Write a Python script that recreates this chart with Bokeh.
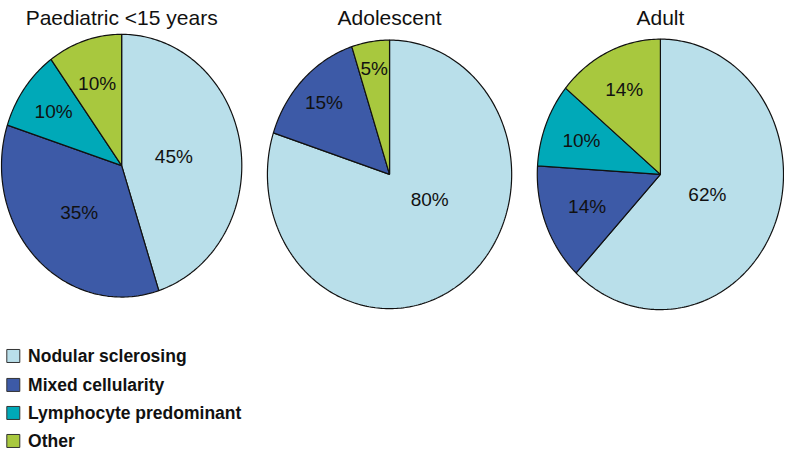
import numpy as np
from bokeh.plotting import figure
from bokeh.models import Range1d
from bokeh.core.properties import value
from bokeh.embed import file_html
from bokeh.resources import INLINE

# ---- data ----
categories = ["Nodular sclerosing", "Mixed cellularity", "Lymphocyte predominant", "Other"]
groups = ["Paediatric <15 years", "Adolescent", "Adult"]
paediatric = [45, 35, 10, 10]
adolescent = [80, 15, 0, 5]
adult = [62, 14, 10, 14]
colors = ["#b9dfea", "#3d5aa7", "#00a9b8", "#a8c83e"]

# ---- layout (reference pixel coordinates) ----
centers = [(125, 174), (397, 183), (672, 183)]
radii = [(122, 136), (124, 139), (125, 140)]
label_r = [[0.44, 0.50, 0.70, 0.66], [0.38, 0.76, 0.0, 0.80], [0.41, 0.64, 0.69, 0.69]]
label_dang = [[0, 0, 0, 0], [24, 0, 0, 0], [0, 0, 0, 0]]
FONT = "Liberation Sans"

p = figure(width=784, height=454, x_range=Range1d(2, 798), y_range=Range1d(473, 3),
           output_backend="svg", toolbar_location=None, min_border=0,
           x_axis_location=None, y_axis_location=None)
p.grid.visible = False
p.outline_line_color = None

series = [paediatric, adolescent, adult]
for gi, vals in enumerate(series):
    cx, cy = centers[gi]
    rx, ry = radii[gi]
    total = float(sum(vals))
    xs, ys, fills = [], [], []
    lx, ly, lt = [], [], []
    cum = 0.0
    for si, v in enumerate(vals):
        if v <= 0:
            continue
        a0 = 90.0 - 360.0 * cum / total
        a1 = 90.0 - 360.0 * (cum + v) / total
        cum += v
        n = max(4, int(abs(a1 - a0) / 1.0))
        angs = np.radians(np.linspace(a0, a1, n))
        px = [cx] + list(cx + rx * np.cos(angs))
        py = [cy] + list(cy - ry * np.sin(angs))
        xs.append(px)
        ys.append(py)
        fills.append(colors[si])
        mid = np.radians((a0 + a1) / 2.0 + label_dang[gi][si])
        f = label_r[gi][si]
        lx.append(cx + f * rx * np.cos(mid))
        ly.append(cy - f * ry * np.sin(mid))
        lt.append(f"{v}%")
    p.patches(xs=xs, ys=ys, fill_color=fills, line_color="#111111", line_width=1.2)
    p.text(x=lx, y=ly, text=lt, text_font=value(FONT), text_font_size="19px",
           text_align="center", text_baseline="middle", text_color="#111111")
    p.text(x=[cx], y=[21], text=[groups[gi]], text_font=value(FONT), text_font_size="21px",
           text_align="center", text_baseline="alphabetic", text_color="#111111")

# ---- legend ----
leg_y = [371, 401, 430, 459]
p.rect(x=[15] * 4, y=leg_y, width=13, height=13, width_units="screen", height_units="screen",
       fill_color=colors, line_color="#333333", line_width=1)
p.text(x=[30] * 4, y=leg_y, text=categories, text_font=value(FONT), text_font_size="17.5px",
       text_font_style="bold", text_align="left", text_baseline="middle", text_color="#111111")

open("out.html", "w").write(file_html(p, INLINE))
